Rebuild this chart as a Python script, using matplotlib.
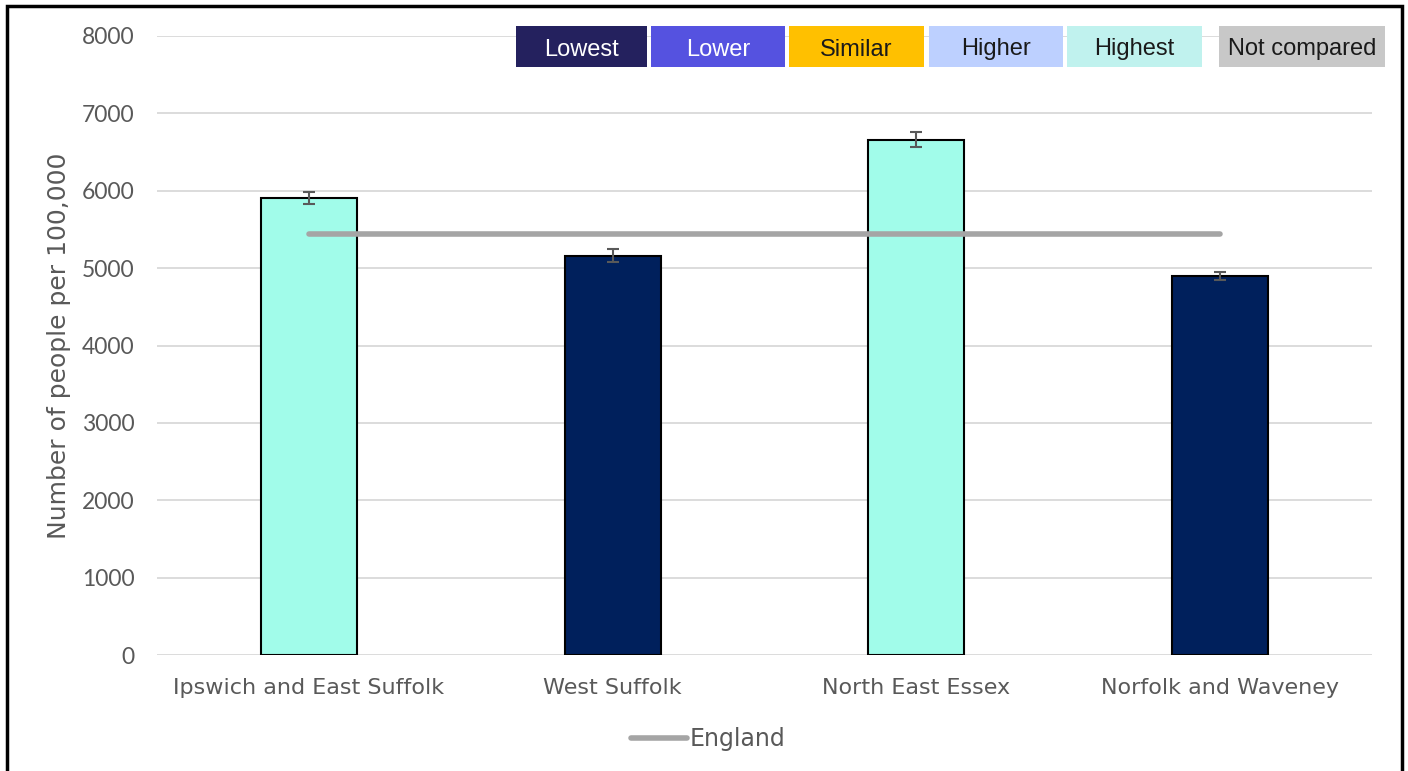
import matplotlib.pyplot as plt
from matplotlib.patches import Rectangle
from matplotlib.lines import Line2D
import numpy as np

areas = ['Ipswich and East Suffolk', 'West Suffolk', 'North East Essex', 'Norfolk and Waveney']
rates = [5910, 5160, 6660, 4900]
errors = [75, 85, 95, 50]
england = 5440
bar_colours = ['#A1FCEA', '#00205C', '#A1FCEA', '#00205C']

key_labels = ['Lowest', 'Lower', 'Similar', 'Higher', 'Highest', 'Not compared']
key_colours = ['#24215E', '#5552E0', '#FFC000', '#BDD0FF', '#C0F2EE', '#C8C8C8']
key_text = ['white', 'white', '#1a1a1a', '#1a1a1a', '#1a1a1a', '#1a1a1a']
key_left = [516, 651, 789, 929, 1067, 1219]
key_right = [647, 785, 924, 1063, 1202, 1385]

W, H = 1408, 771
grey = '#595959'
font = 'DejaVu Sans'

fig = plt.figure(figsize=(W / 100, H / 100), dpi=100)
ax = fig.add_axes([157 / W, 1 - 655 / H, (1372 - 157) / W, (655 - 36) / H])

x = np.arange(len(areas))
ax.bar(x, rates, width=0.316, color=bar_colours, edgecolor='black', linewidth=1.5, zorder=3)
ax.errorbar(x, rates, yerr=errors, fmt='none', ecolor=grey, elinewidth=1.5,
            capsize=4.5, capthick=1.5, zorder=4)
ax.plot(x, [england] * len(x), color='#A5A5A5', linewidth=4, solid_capstyle='round', zorder=5)

ax.set_xlim(-0.5, 3.5)
ax.set_ylim(0, 8000)
ax.set_yticks(np.arange(0, 8001, 1000))
ax.yaxis.grid(True, color='#D9D9D9', linewidth=1.3, zorder=0)
ax.set_axisbelow(True)
for s in ['top', 'right', 'left', 'bottom']:
    ax.spines[s].set_visible(False)
ax.tick_params(length=0, colors=grey)
ax.tick_params(axis='x', pad=16.5, labelsize=16)
ax.tick_params(axis='y', pad=16, labelsize=16.5)
ax.set_xticks(x)
ax.set_xticklabels(areas, fontfamily=font)
for lab in ax.get_yticklabels():
    lab.set_fontfamily('Lato')
ax.set_ylabel('Number of people per 100,000', fontsize=18, color=grey, fontfamily=font, labelpad=8)

# comparison key at top
for lab, col, tc, l, r in zip(key_labels, key_colours, key_text, key_left, key_right):
    fig.patches.append(Rectangle((l / W, 1 - 67 / H), (r - l) / W, 41 / H,
                                 transform=fig.transFigure, facecolor=col, edgecolor='none', zorder=6))
    fig.text((l + r) / 2 / W, 1 - 47 / H, lab, ha='center', va='center_baseline', color=tc,
             fontsize=17, fontfamily='Liberation Sans', zorder=7)

# England legend
handle = Line2D([], [], color='#A5A5A5', linewidth=4, solid_capstyle='round')
leg = fig.legend([handle], ['England'], loc='center', bbox_to_anchor=(708 / W, 1 - 739 / H),
                 frameon=False, handlelength=2.4, handletextpad=0.1,
                 prop={'family': font, 'size': 17})
for t in leg.get_texts():
    t.set_color(grey)

# outer frame
fig.patches.append(Rectangle((7 / W, -0.02), (1402 - 7) / W, 1.02 - 6 / H, transform=fig.transFigure,
                             fill=False, edgecolor='black', linewidth=2.5, zorder=10))

fig.savefig('out.png', dpi=100)
